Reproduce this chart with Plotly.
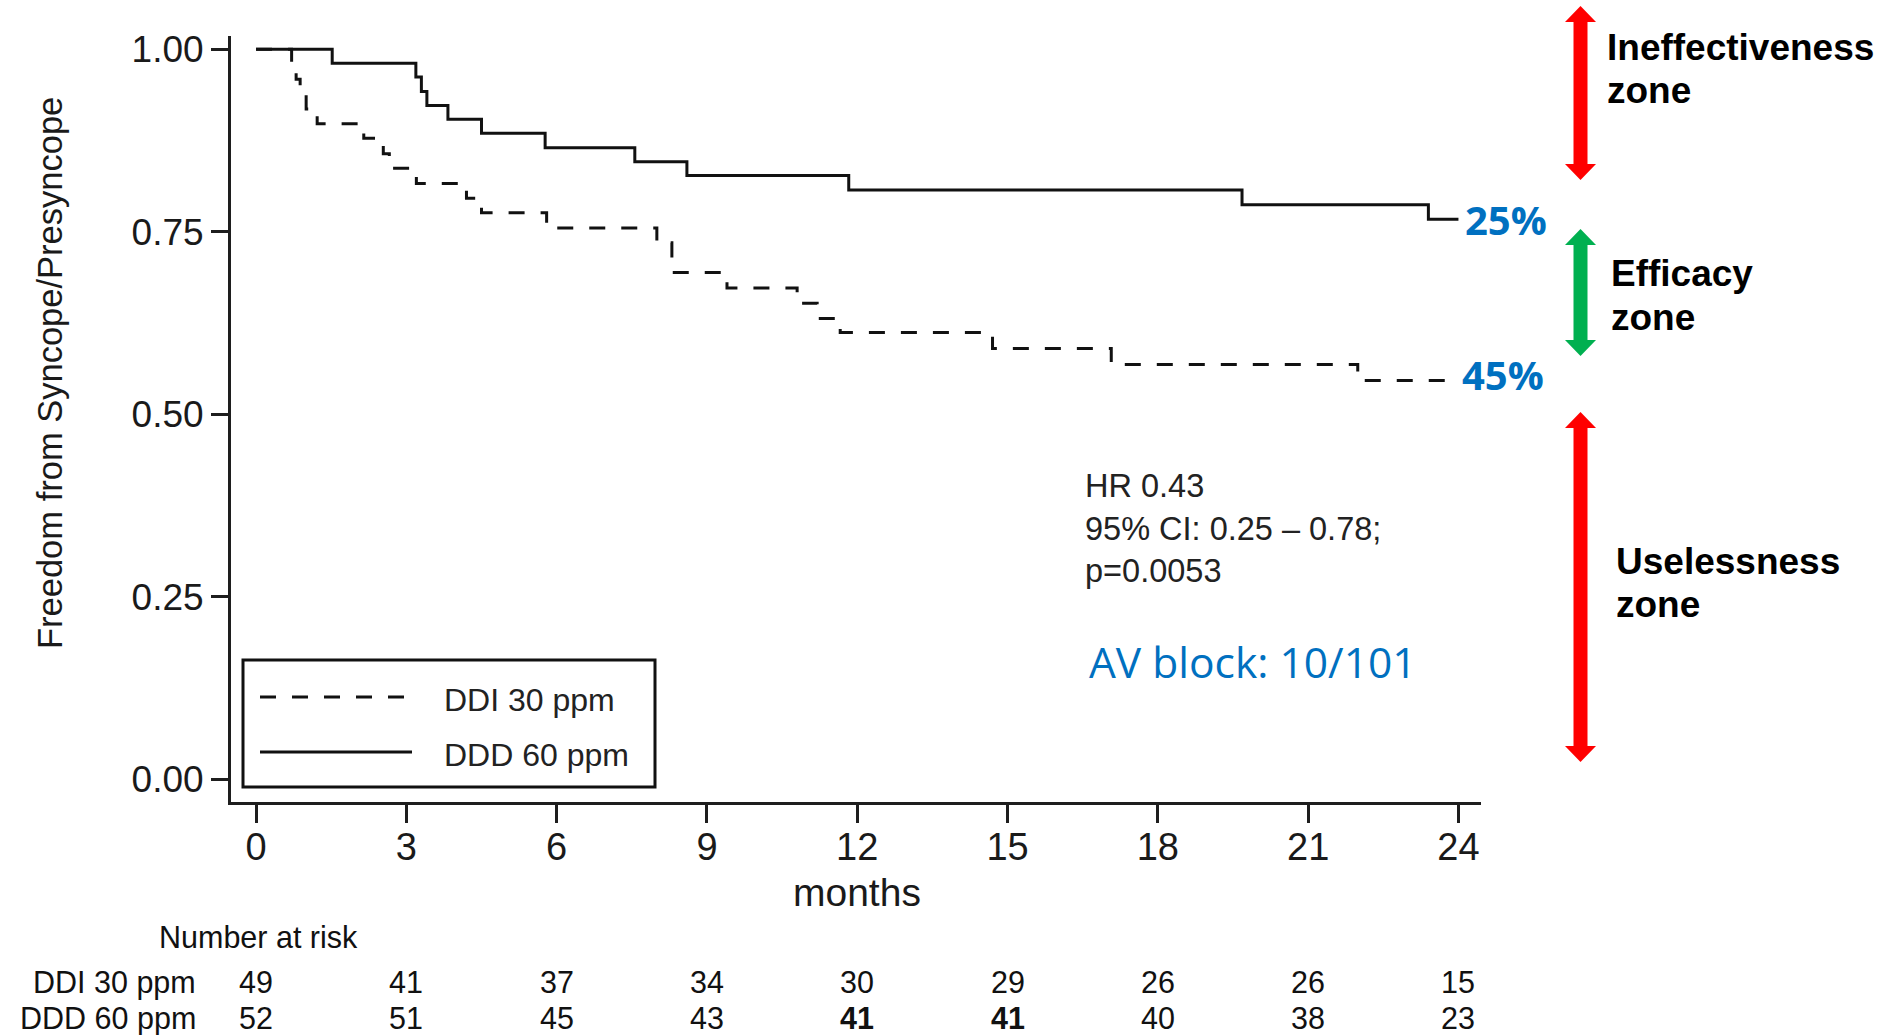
import plotly.graph_objects as go

# ---------------- data ----------------
months_ticks = [0, 3, 6, 9, 12, 15, 18, 21, 24]
y_ticks = [0.0, 0.25, 0.5, 0.75, 1.0]
y_tick_labels = ["0.00", "0.25", "0.50", "0.75", "1.00"]

# Kaplan-Meier step curves (time in months, survival)
ddi_time = [0, 0.71, 0.80, 0.88, 1.00, 1.22, 2.15, 2.54, 2.66, 3.20, 4.20, 4.50,
            5.80, 8.00, 8.30, 9.40, 10.80, 11.20, 11.66, 14.70, 17.07, 21.99, 24.0]
ddi_surv = [1.000, 0.980, 0.959, 0.939, 0.918, 0.898, 0.878, 0.857, 0.837, 0.816, 0.796, 0.776,
            0.755, 0.735, 0.694, 0.673, 0.652, 0.631, 0.612, 0.590, 0.568, 0.546, 0.546]

ddd_time = [0, 1.52, 3.19, 3.30, 3.41, 3.83, 4.50, 5.77, 7.56, 8.60, 11.83, 19.68, 23.40, 24.0]
ddd_surv = [1.000, 0.981, 0.962, 0.942, 0.923, 0.904, 0.885, 0.865, 0.846, 0.827, 0.807, 0.787, 0.767, 0.767]

series_names = ["DDI 30 ppm", "DDD 60 ppm"]
risk_ddi = [49, 41, 37, 34, 30, 29, 26, 26, 15]
risk_ddd = [52, 51, 45, 43, 41, 41, 40, 38, 23]
risk_ddd_bold = [False, False, False, False, True, True, False, False, False]

end_labels = ["25%", "45%"]
stats_lines = ["HR 0.43", "95% CI: 0.25 \u2013 0.78;", "p=0.0053"]
av_block_text = "AV block: 10/101"
zones = [("Ineffectiveness", "zone"), ("Efficacy", "zone"), ("Uselessness", "zone")]

# ---------------- layout geometry (pixels) ----------------
W, H = 1885, 1035
L, R, T, B = 231, 1481, 36, 802


def px(X):
    return (X - L) / (R - L)


def py(Y):
    return (B - Y) / (B - T)


AX = "#1e1e1e"
SANS = "Liberation Sans, Arial, sans-serif"
BLUE = "#0070C0"
DASH = "16px,16px"

fig = go.Figure()
fig.add_trace(go.Scatter(
    x=ddi_time, y=ddi_surv, mode="lines", name=series_names[0], showlegend=False,
    line=dict(shape="hv", color="#111111", width=3, dash=DASH)))
fig.add_trace(go.Scatter(
    x=ddd_time, y=ddd_surv, mode="lines", name=series_names[1], showlegend=False,
    line=dict(shape="hv", color="#111111", width=3)))

annotations = []
shapes = []

# legend box (drawn)
shapes.append(dict(type="rect", xref="paper", yref="paper", x0=px(243), x1=px(655),
                   y0=py(787), y1=py(660), line=dict(color="#111", width=3), fillcolor="white",
                   layer="above"))
for name, yl, yt, dash in [(series_names[0], 697, 700, DASH), (series_names[1], 752, 755, "solid")]:
    shapes.append(dict(type="line", xref="paper", yref="paper", x0=px(260), x1=px(412),
                       y0=py(yl), y1=py(yl), line=dict(color="#111", width=3, dash=dash),
                       layer="above"))
    annotations.append(dict(x=px(442), y=py(yt), xref="paper", yref="paper", text=name,
                            showarrow=False, xanchor="left", yanchor="middle",
                            font=dict(family=SANS, size=32, color="#222")))

# y-axis title
annotations.append(dict(x=px(50), y=py(373), xref="paper", yref="paper",
                        text="Freedom from Syncope/Presyncope", textangle=-90,
                        showarrow=False, font=dict(family=SANS, size=34.5, color="#1a1a1a"),
                        xanchor="center", yanchor="middle"))

# stats text
for line, yc in zip(stats_lines, [486, 529, 571]):
    annotations.append(dict(x=px(1083), y=py(yc), xref="paper", yref="paper", text=line,
                            showarrow=False, xanchor="left", yanchor="middle",
                            font=dict(family=SANS, size=32.5, color="#222")))

annotations.append(dict(x=px(1087), y=py(661), xref="paper", yref="paper", text=av_block_text,
                        showarrow=False, xanchor="left", yanchor="middle",
                        font=dict(family="Open Sans, sans-serif", size=42.5, color=BLUE)))

# end labels
for lab, yc, xl in zip(end_labels, [219, 374], [1463, 1460]):
    annotations.append(dict(x=px(xl), y=py(yc), xref="paper", yref="paper", text="<b>%s</b>" % lab,
                            showarrow=False, xanchor="left", yanchor="middle",
                            font=dict(family="Open Sans, sans-serif", size=40, color=BLUE)))

# zone texts
zone_pos = [((1605, 48), (1605, 90)), ((1609, 273), (1609, 317.5)), ((1614, 561), (1614, 604))]
for (t1, t2), ((x1, y1), (x2, y2)) in zip(zones, zone_pos):
    for t, xx, yy in [(t1, x1, y1), (t2, x2, y2)]:
        annotations.append(dict(x=px(xx), y=py(yy), xref="paper", yref="paper", text="<b>%s</b>" % t,
                                showarrow=False, xanchor="left", yanchor="middle",
                                font=dict(family=SANS, size=37, color="#000")))

# months label
annotations.append(dict(x=px(857), y=py(892), xref="paper", yref="paper", text="months",
                        showarrow=False, xanchor="center", yanchor="middle",
                        font=dict(family=SANS, size=39, color="#1a1a1a")))

# number at risk table
annotations.append(dict(x=px(258), y=py(937), xref="paper", yref="paper", text="Number at risk",
                        showarrow=False, xanchor="center", yanchor="middle",
                        font=dict(family=SANS, size=30.5, color="#111")))
for name, yc in zip(series_names, [982, 1018]):
    annotations.append(dict(x=px(198), y=py(yc), xref="paper", yref="paper", text=name,
                            showarrow=False, xanchor="right", yanchor="middle",
                            font=dict(family=SANS, size=30.5, color="#111")))
for m, a, b, bb in zip(months_ticks, risk_ddi, risk_ddd, risk_ddd_bold):
    annotations.append(dict(x=m, y=py(982), xref="x", yref="paper", text=str(a),
                            showarrow=False, xanchor="center", yanchor="middle",
                            font=dict(family=SANS, size=30.5, color="#111")))
    annotations.append(dict(x=m, y=py(1018), xref="x", yref="paper",
                            text=("<b>%d</b>" % b) if bb else str(b),
                            showarrow=False, xanchor="center", yanchor="middle",
                            font=dict(family=SANS, size=30.5, color="#111")))


# arrows as filled polygons
def arrow_path(cx, ty, by, sw=7, hw=15.5, hl=16):
    pts = [(cx, ty), (cx + hw, ty + hl), (cx + sw, ty + hl), (cx + sw, by - hl), (cx + hw, by - hl),
           (cx, by), (cx - hw, by - hl), (cx - sw, by - hl), (cx - sw, ty + hl), (cx - hw, ty + hl)]
    return "M " + " L ".join("%.5f %.5f" % (px(x), py(y)) for x, y in pts) + " Z"


for ty, by, col in [(6, 180, "#FF0000"), (229, 356, "#00B050"), (412, 762, "#FF0000")]:
    shapes.append(dict(type="path", xref="paper", yref="paper", path=arrow_path(1580.5, ty, by),
                       fillcolor=col, line=dict(width=0), layer="above"))

fig.update_layout(
    width=W, height=H, autosize=False,
    margin=dict(l=L, r=W - R, t=T, b=H - B, pad=0),
    paper_bgcolor="white", plot_bgcolor="white",
    font=dict(family=SANS, color="#222"),
    showlegend=False,
    xaxis=dict(range=[-0.5, 24.45], tickmode="array", tickvals=months_ticks,
               ticktext=[str(m) for m in months_ticks],
               showline=True, linecolor=AX, linewidth=3, ticks="outside", ticklen=18,
               tickwidth=3, tickcolor=AX, showgrid=False, zeroline=False,
               ticklabelstandoff=-9,
               tickfont=dict(family=SANS, size=38, color="#1a1a1a")),
    yaxis=dict(range=[-0.0315, 1.0182], tickmode="array", tickvals=y_ticks, ticktext=y_tick_labels,
               showline=True, linecolor=AX, linewidth=3, ticks="outside", ticklen=17,
               tickwidth=3, tickcolor=AX, showgrid=False, zeroline=False,
               tickfont=dict(family=SANS, size=37, color="#1a1a1a")),
    annotations=annotations,
    shapes=shapes,
)

fig.write_html("out.html")
